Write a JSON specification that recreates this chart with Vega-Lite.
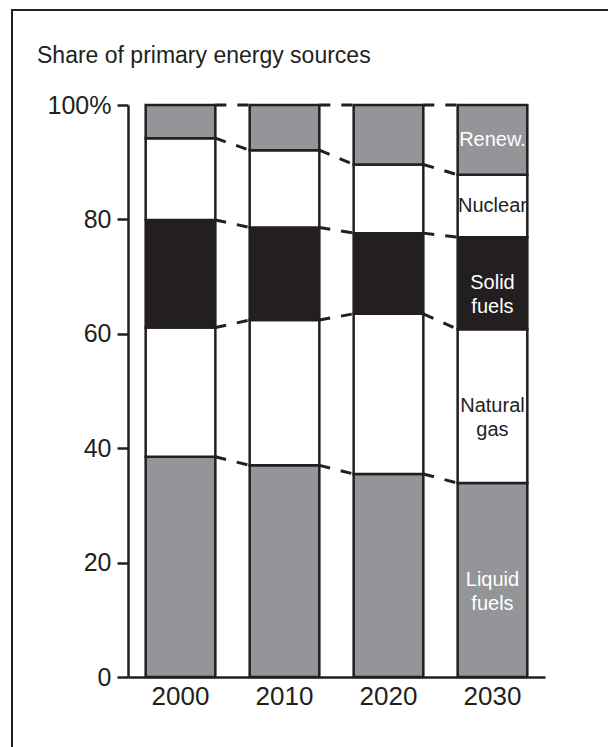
{
  "$schema": "https://vega.github.io/schema/vega-lite/v6.json",
  "autosize": {"type": "none"},
  "padding": {"left": 12, "top": 10, "right": 0, "bottom": 0},
  "width": 620,
  "height": 760,
  "background": "white",
  "title": {
    "text": "Share of primary energy sources",
    "anchor": "start",
    "frame": "group",
    "offset": 0,
    "baseline": "alphabetic",
    "dx": 25,
    "dy": 76,
    "font": "Liberation Sans",
    "fontSize": 23,
    "fontWeight": "normal",
    "color": "#231f20"
  },
  "config": {
    "view": {"stroke": "#231f20", "strokeWidth": 2},
    "font": "Liberation Sans"
  },
  "data": {
    "values": [
      {"year": "2000", "source": "Liquid fuels", "share": 38.5},
      {"year": "2000", "source": "Natural gas", "share": 22.6},
      {"year": "2000", "source": "Solid fuels", "share": 18.8},
      {"year": "2000", "source": "Nuclear", "share": 14.3},
      {"year": "2000", "source": "Renew.", "share": 5.8},
      {"year": "2010", "source": "Liquid fuels", "share": 37.0},
      {"year": "2010", "source": "Natural gas", "share": 25.4},
      {"year": "2010", "source": "Solid fuels", "share": 16.2},
      {"year": "2010", "source": "Nuclear", "share": 13.5},
      {"year": "2010", "source": "Renew.", "share": 7.9},
      {"year": "2020", "source": "Liquid fuels", "share": 35.5},
      {"year": "2020", "source": "Natural gas", "share": 28.0},
      {"year": "2020", "source": "Solid fuels", "share": 14.1},
      {"year": "2020", "source": "Nuclear", "share": 12.0},
      {"year": "2020", "source": "Renew.", "share": 10.4},
      {"year": "2030", "source": "Liquid fuels", "share": 33.9},
      {"year": "2030", "source": "Natural gas", "share": 26.9},
      {"year": "2030", "source": "Solid fuels", "share": 16.1},
      {"year": "2030", "source": "Nuclear", "share": 10.9},
      {"year": "2030", "source": "Renew.", "share": 12.2}
    ]
  },
  "transform": [
    {"stack": "share", "groupby": ["year"], "as": ["lo", "hi"]}
  ],
  "encoding": {
    "x": {
      "field": "year",
      "type": "nominal",
      "scale": {"type": "band", "domain": ["2000", "2010", "2020", "2030"], "range": [116, 533], "paddingInner": 0.33, "paddingOuter": 0.17},
      "axis": {
        "orient": "bottom",
        "offset": -93,
        "title": null,
        "labelAngle": 0,
        "ticks": false,
        "domainColor": "#231f20",
        "domainWidth": 2.5,
        "labelFont": "Liberation Sans",
        "labelFontSize": 26,
        "labelColor": "#231f20",
        "labelPadding": 6,
        "grid": false
      }
    }
  },
  "layer": [
    {
      "mark": {"type": "bar", "stroke": "#231f20", "strokeWidth": 2.5},
      "encoding": {
        "y": {
          "field": "lo",
          "type": "quantitative",
          "scale": {"domain": [0, 100], "range": [667, 95], "nice": false, "zero": true},
          "axis": {
            "orient": "left",
            "offset": -116,
            "title": null,
            "values": [0, 20, 40, 60, 80, 100],
            "labelExpr": "datum.value == 100 ? '100%' : datum.label",
            "grid": false,
            "tickSize": 11,
            "tickWidth": 2.5,
            "tickColor": "#231f20",
            "domainColor": "#231f20",
            "domainWidth": 2.5,
            "labelFont": "Liberation Sans",
            "labelFontSize": 25,
            "labelColor": "#231f20",
            "labelPadding": 6
          }
        },
        "y2": {"field": "hi"},
        "fill": {
          "field": "source",
          "type": "nominal",
          "scale": {
            "domain": ["Liquid fuels", "Natural gas", "Solid fuels", "Nuclear", "Renew."],
            "range": ["#939598", "#ffffff", "#231f20", "#ffffff", "#939598"]
          },
          "legend": null
        }
      }
    },
    {
      "transform": [
        {"window": [{"op": "lead", "field": "hi", "as": "next_hi"}, {"op": "lead", "field": "year", "as": "next_year"}], "groupby": ["source"], "sort": [{"field": "year", "order": "ascending"}]},
        {"filter": "datum.next_year != null"}
      ],
      "mark": {"type": "rule", "stroke": "#231f20", "strokeWidth": 3, "strokeDash": [11, 11], "strokeCap": "butt"},
      "encoding": {
        "x": {"field": "year", "type": "nominal", "bandPosition": 1},
        "x2": {"field": "next_year", "bandPosition": 0},
        "y": {"field": "hi", "type": "quantitative"},
        "y2": {"field": "next_hi"}
      }
    },
    {
      "transform": [
        {"filter": "datum.year == '2030'"},
        {"calculate": "(datum.lo + datum.hi) / 2", "as": "mid"}
      ],
      "mark": {"type": "text", "font": "Liberation Sans", "fontSize": 20, "lineBreak": " ", "lineHeight": 24, "align": "center", "baseline": "middle"},
      "encoding": {
        "y": {"field": "mid", "type": "quantitative"},
        "text": {"field": "source"},
        "color": {
          "condition": {"test": "datum.source == 'Natural gas' || datum.source == 'Nuclear'", "value": "#231f20"},
          "value": "#ffffff"
        }
      }
    }
  ]
}
